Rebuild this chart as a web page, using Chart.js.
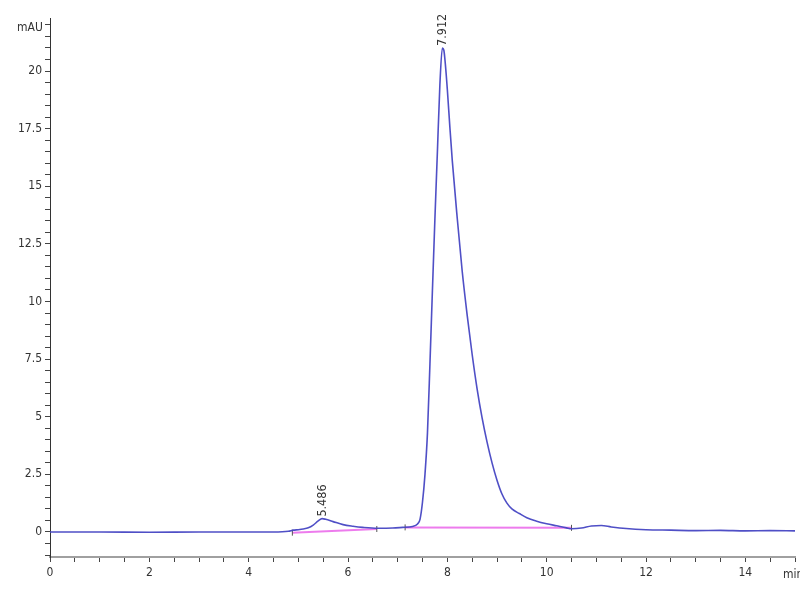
<!DOCTYPE html>
<html lang="en">
    <head>
        <meta charset="UTF-8">
        <title>Chromatogram</title>
        <script src="https://cdn.jsdelivr.net/npm/chart.js@4.4.1/dist/chart.umd.min.js"></script>
        <style>
            body { margin: 0; background: #fff; }
            #box { width: 800px; height: 600px; }
        </style>
    </head>
    <body>
        <div id="box"><canvas id="grafica"></canvas></div>
        <script>
        // trace (min, mAU)
        const tiempos = [0, 1, 2, 3, 4, 4.5, 4.8, 4.9, 5.0, 5.1, 5.2, 5.3, 5.4, 5.48, 5.55, 5.7, 5.9, 6.1, 6.3, 6.6, 6.9, 7.1, 7.3,
            7.4, 7.45, 7.5, 7.55, 7.6, 7.65, 7.7, 7.75, 7.8, 7.85, 7.9, 7.93, 7.96, 8.0, 8.05, 8.1, 8.2, 8.3, 8.4, 8.5, 8.6, 8.7,
            8.8, 8.9, 9.0, 9.1, 9.2, 9.3, 9.45, 9.6, 9.8, 10.0, 10.2, 10.4, 10.5, 10.7, 10.9, 11.1, 11.3, 11.6, 12, 12.5, 13,
            13.5, 14, 14.5, 15];
        const senal = [0, 0, -0.01, 0, 0, 0, 0.03, 0.08, 0.1, 0.13, 0.18, 0.3, 0.48, 0.58, 0.55, 0.45, 0.32, 0.25, 0.2, 0.16, 0.17, 0.2, 0.24,
            0.35, 0.55, 1.3, 2.5, 4.3, 7.3, 10.5, 13.6, 16.5, 19.4, 21.0, 20.9, 20.3, 19.2, 17.6, 16.1, 13.6, 11.3, 9.4, 7.7, 6.2, 4.95,
            3.9, 3.0, 2.25, 1.65, 1.25, 1.0, 0.8, 0.62, 0.47, 0.36, 0.27, 0.18, 0.14, 0.17, 0.26, 0.28, 0.22, 0.15, 0.1, 0.08, 0.06,
            0.07, 0.05, 0.06, 0.05];

        // integration baselines
        const baseX = [4.88, 6.58, null, 7.15, 10.5];
        const baseY = [-0.03, 0.13, null, 0.2, 0.18];

        // peak marks
        const picos = [5.486, 7.912];
        const alturas = [0.58, 21.0];
        const etiquetasPico = ["5.486", "7.912"];

        const fuente = "'Liberation Sans Narrow', 'DejaVu Sans Condensed', 'Liberation Sans', Arial, sans-serif";

        const textos = {
            id: 'textos',
            afterDatasetsDraw(chart) {
                const ctx = chart.ctx;
                const x = chart.scales.x, y = chart.scales.y;
                ctx.save();
                ctx.fillStyle = '#333';
                ctx.font = '12px ' + fuente;
                // unit labels
                ctx.textAlign = 'left';
                ctx.textBaseline = 'middle';
                ctx.fillText('mAU', 17, 28);
                ctx.fillText('min', 783, 575);
                // rotated peak labels
                ctx.font = '12.5px ' + fuente;
                for (let i = 0; i < picos.length; i++) {
                    ctx.save();
                    ctx.translate(x.getPixelForValue(picos[i]), y.getPixelForValue(alturas[i]) - 2);
                    ctx.rotate(-Math.PI / 2);
                    ctx.textAlign = 'left';
                    ctx.textBaseline = 'middle';
                    ctx.fillText(etiquetasPico[i], 0, 0);
                    ctx.restore();
                }
                ctx.restore();
            }
        };

        new Chart(document.querySelector('#grafica'), {
            type: 'line',
            data: {
                datasets: [
                    {
                        data: tiempos.map((t, i) => ({ x: t, y: senal[i] })),
                        borderColor: 'rgba(70, 70, 195, 0.95)',
                        borderWidth: 1.6,
                        pointRadius: 0,
                        cubicInterpolationMode: 'monotone',
                        order: 1
                    },
                    {
                        data: baseX.map((t, i) => ({ x: t, y: baseY[i] })),
                        borderColor: 'rgba(235, 110, 235, 0.9)',
                        borderWidth: 2,
                        pointRadius: (c) => (c.raw.x === null ? 0 : 3),
                        pointStyle: 'line',
                        rotation: 90,
                        pointBorderColor: '#555',
                        pointBorderWidth: 1,
                        spanGaps: false,
                        order: 2
                    }
                ]
            },
            options: {
                responsive: true,
                maintainAspectRatio: false,
                animation: false,
                layout: { padding: { top: 18, right: 0, left: 0, bottom: 0 } },
                plugins: { legend: { display: false }, tooltip: { enabled: false } },
                scales: {
                    x: {
                        type: 'linear',
                        min: 0,
                        max: 15,
                        border: { color: '#a0a0a0', width: 2 },
                        grid: { drawOnChartArea: false, tickLength: 5, color: '#444' },
                        ticks: {
                            stepSize: 0.5,
                            autoSkip: false,
                            maxRotation: 0,
                            padding: 4,
                            color: '#333',
                            font: { size: 12, family: fuente },
                            callback: (v) => (v % 2 === 0 && v < 15 ? String(v) : '')
                        },
                        afterFit: (s) => { s.height = 43; }
                    },
                    y: {
                        min: -1.085,
                        max: 22.3,
                        border: { color: '#333', width: 1 },
                        grid: { drawOnChartArea: false, tickLength: 5, color: '#444' },
                        ticks: {
                            stepSize: 0.5,
                            includeBounds: false,
                            autoSkip: false,
                            padding: 3,
                            color: '#333',
                            font: { size: 12, family: fuente },
                            callback: (v) => (Math.abs(v % 2.5) < 1e-9 ? String(v) : '')
                        },
                        afterFit: (s) => { s.width = 50; }
                    }
                }
            },
            plugins: [textos]
        });
        </script>
    </body>
</html>
